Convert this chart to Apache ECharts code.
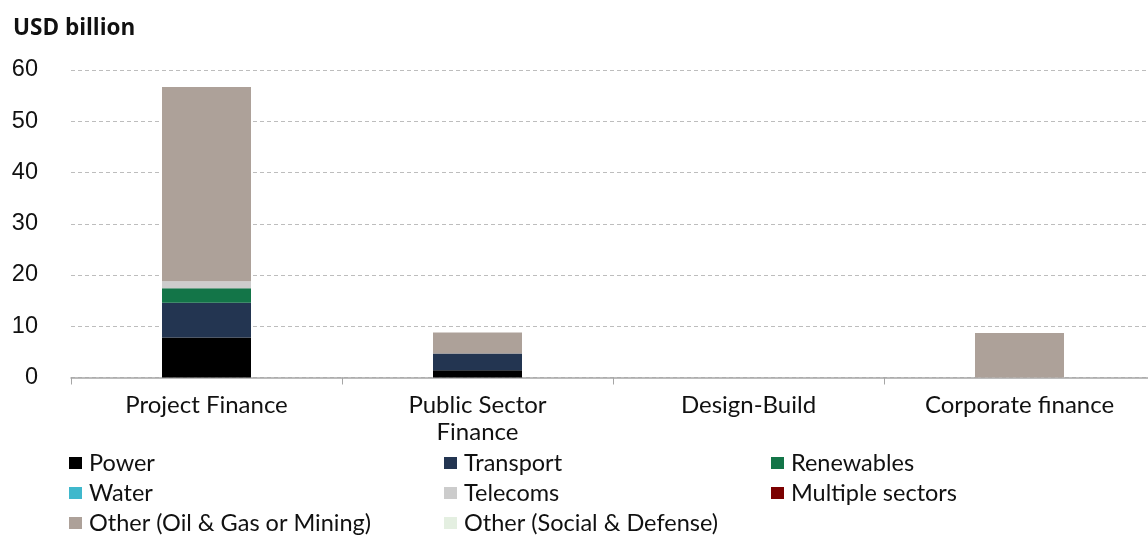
<!DOCTYPE html>
<html>
<head>
<meta charset="utf-8">
<script src="https://cdn.jsdelivr.net/npm/echarts@6/dist/echarts.min.js"></script>
<style>
  html, body { margin: 0; padding: 0; background: #fff; }
  #chart { width: 1148px; height: 535px; }
</style>
</head>
<body>
<div id="chart"></div>
<script>
// Financing structure categories (x axis)
const categories = ['Project Finance', 'Public Sector\nFinance', 'Design-Build', 'Corporate finance'];

// Values by sector, USD billion
const power       = [7.8, 1.4, 0, 0];
const transport   = [6.8, 3.3, 0, 0];
const renewables  = [2.8, 0, 0, 0];
const water       = [0, 0, 0, 0];
const telecoms    = [1.4, 0, 0, 0];
const multiple    = [0, 0, 0, 0];
const otherOilGas = [37.9, 4.1, 0, 8.7];
const otherSocial = [0, 0, 0, 0];

const yTicks = [0, 10, 20, 30, 40, 50, 60];

const sectors = [
  { name: 'Power', data: power, color: '#000000' },
  { name: 'Transport', data: transport, color: '#233551' },
  { name: 'Renewables', data: renewables, color: '#137548' },
  { name: 'Water', data: water, color: '#3fb8cc' },
  { name: 'Telecoms', data: telecoms, color: '#cccccc' },
  { name: 'Multiple sectors', data: multiple, color: '#7b0000' },
  { name: 'Other (Oil & Gas or Mining)', data: otherOilGas, color: '#ada199' },
  { name: 'Other (Social & Defense)', data: otherSocial, color: '#e4efe1' }
];

const labelFont = 'Lato, "Noto Sans", sans-serif';

function legendColumn(names, left) {
  return {
    data: names,
    orient: 'vertical',
    left: left,
    top: 451,
    itemWidth: 13,
    itemHeight: 12,
    itemGap: 6,
    icon: 'rect',
    padding: 0,
    selectedMode: false,
    textStyle: { fontFamily: labelFont, fontSize: 23.5, color: '#111', padding: [0, 0, 0, 2], lineHeight: 24 }
  };
}

const chart = echarts.init(document.getElementById('chart'), null, { renderer: 'canvas' });

chart.setOption({
  animation: false,
  backgroundColor: '#ffffff',
  title: {
    text: 'USD billion',
    left: 13,
    top: 17,
    padding: 0,
    textStyle: { fontFamily: '"Open Sans", Lato, sans-serif', fontWeight: 'bold', fontSize: 22.5, lineHeight: 24, color: '#111' }
  },
  legend: [
    legendColumn(['Power', 'Water', 'Other (Oil & Gas or Mining)'], 69),
    legendColumn(['Transport', 'Telecoms', 'Other (Social & Defense)'], 444),
    legendColumn(['Renewables', 'Multiple sectors'], 771)
  ],
  grid: { left: 71, width: 1084, top: 70, bottom: 157.5, containLabel: false, outerBoundsMode: 'none' },
  xAxis: {
    type: 'category',
    data: categories,
    axisLine: { lineStyle: { color: '#a6a6a6', width: 1.5 } },
    axisTick: { show: true, alignWithLabel: false, length: 7, lineStyle: { color: '#a6a6a6' } },
    axisLabel: {
      fontFamily: labelFont, fontSize: 24, color: '#111', margin: 14, lineHeight: 27, interval: 0
    }
  },
  yAxis: {
    type: 'value',
    min: yTicks[0],
    max: yTicks[yTicks.length - 1],
    interval: 10,
    axisLine: { show: false },
    axisTick: { show: false },
    axisLabel: { fontFamily: '"Liberation Sans", Arial, sans-serif', fontSize: 23.5, color: '#111', margin: 33 },
    splitLine: { lineStyle: { color: '#bdbdbd', type: [4, 3], width: 1 } }
  },
  series: sectors.map(s => ({
    name: s.name,
    type: 'bar',
    stack: 'total',
    barWidth: 89,
    data: s.data,
    itemStyle: { color: s.color },
    emphasis: { disabled: true }
  }))
});
</script>
</body>
</html>
